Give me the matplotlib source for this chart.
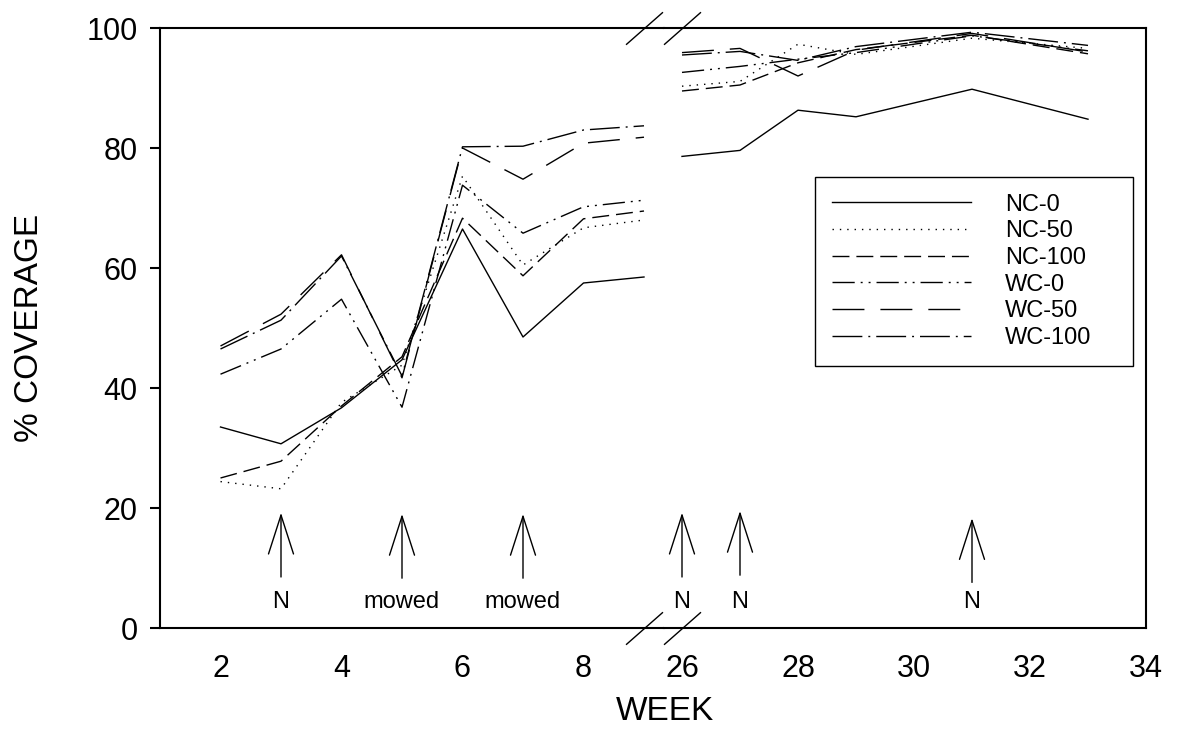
import matplotlib
matplotlib.use("Agg")
import matplotlib.pyplot as plt
from matplotlib.transforms import blended_transform_factory

plt.rcParams['font.family'] = ['Liberation Sans', 'DejaVu Sans']
plt.rcParams['lines.scale_dashes'] = False

# data: first season weeks 2-9, second season weeks 26-33
weeks_a = [2, 3, 4, 5, 6, 7, 8, 9]
weeks_b = [26, 27, 28, 29, 31, 33]

labels = ["NC-0", "NC-50", "NC-100", "WC-0", "WC-50", "WC-100"]

nc0_a = [33.5, 30.7, 36.7, 44.7, 66.5, 48.5, 57.5, 58.5]
nc50_a = [24.4, 23.2, 37.6, 43.8, 75.3, 60.5, 66.7, 68.0]
nc100_a = [25.0, 27.8, 37.0, 45.2, 68.3, 58.7, 68.2, 69.5]
wc0_a = [42.3, 46.5, 54.8, 36.8, 73.8, 65.8, 70.2, 71.3]
wc50_a = [47.0, 52.3, 62.2, 41.7, 80.0, 74.8, 80.8, 81.8]
wc100_a = [46.5, 51.3, 62.0, 42.0, 80.2, 80.3, 83.0, 83.7]

nc0_b = [78.6, 79.6, 86.3, 85.2, 89.8, 84.8]
nc50_b = [90.3, 91.1, 97.3, 95.6, 98.3, 96.6]
nc100_b = [89.5, 90.5, 94.2, 96.4, 98.8, 95.7]
wc0_b = [92.6, 93.6, 94.8, 95.9, 98.7, 96.2]
wc50_b = [95.9, 96.6, 92.0, 96.3, 99.1, 96.0]
wc100_b = [95.5, 96.1, 94.6, 96.9, 99.3, 97.1]

series_a = [nc0_a, nc50_a, nc100_a, wc0_a, wc50_a, wc100_a]
series_b = [nc0_b, nc50_b, nc100_b, wc0_b, wc50_b, wc100_b]

# event arrows
arrow_weeks = [3, 5, 7, 26, 27, 31]
arrow_text = ["N", "mowed", "mowed", "N", "N", "N"]
arrow_tip = [19.2, 19.0, 19.0, 19.2, 19.5, 18.3]
arrow_base = [8.5, 8.3, 8.3, 8.5, 8.8, 7.6]
text_y = 4.3

styles = [
    '-',
    (0, (1.0, 4.3)),
    (0, (12.2, 5.0)),
    (0, (16.0, 4.3, 1.4, 4.3, 1.4, 4.3)),
    (0, (23.0, 11.5)),
    (0, (21.5, 4.3, 1.4, 4.3)),
]

W, H = 1203, 736
fig = plt.figure(figsize=(W / 100, H / 100), dpi=100)
bot = (H - 628) / H
hgt = 600 / H
split = 664
ax1 = fig.add_axes([160 / W, bot, (split - 160) / W, hgt])
ax2 = fig.add_axes([split / W, bot, (1146 - split) / W, hgt], sharey=ax1)

for ax, weeks, data in [(ax1, weeks_a, series_a), (ax2, weeks_b, series_b)]:
    for vals, ls, lab in zip(data, styles, labels):
        ax.plot(weeks, vals, color='black', linestyle=ls, linewidth=1.0, label=lab)

ax1.set_xlim(1, 1 + (split - 160) / 60.5)
ax2.set_xlim(26 - (682 - split) / 58.0, 34)
ax1.set_ylim(0, 100)

for ax in (ax1, ax2):
    for s in ax.spines.values():
        s.set_linewidth(1.5)
ax1.spines['right'].set_visible(False)
ax2.spines['left'].set_visible(False)

ax1.set_yticks([0, 20, 40, 60, 80, 100])
ax1.tick_params(axis='y', direction='out', length=7, width=1.5, pad=9, labelsize=22)
ax2.tick_params(axis='y', left=False, labelleft=False)

ax1.set_xticks([2, 4, 6, 8])
ax1.tick_params(axis='x', length=0, pad=19, labelsize=22)
ax2.set_xticks([26, 28, 30, 32, 34])
ax2.tick_params(axis='x', which='major', length=0, pad=19, labelsize=22)
ax2.set_xticks([30], minor=True)
ax2.tick_params(axis='x', which='minor', direction='out', length=6, width=1.2)

# arrows and labels
for w, t, tip, base in zip(arrow_weeks, arrow_text, arrow_tip, arrow_base):
    ax = ax1 if w < 20 else ax2
    ax.annotate('', xy=(w, tip), xytext=(w, base),
                arrowprops=dict(arrowstyle='->,head_length=1.4,head_width=0.45',
                                mutation_scale=20, color='black', lw=1.0,
                                shrinkA=0, shrinkB=0))
    ax.text(w, text_y, t, ha='center', va='center', fontsize=17)

# break marks
mark = [(-1, -0.88), (1, 0.88)]
for ax, w in [(ax1, weeks_a[-1]), (ax2, weeks_b[0])]:
    tr = blended_transform_factory(ax.transData, ax.transAxes)
    ax.plot([w, w], [0, 1], transform=tr, marker=mark, markersize=26.6,
            linestyle='none', color='black', markeredgewidth=1.0, clip_on=False)

handles, labs = ax1.get_legend_handles_labels()
leg = fig.legend(handles, labs, loc='upper left',
                 bbox_to_anchor=(815 / W, 1 - 359 / H, 318 / W, 182 / H),
                 mode='expand', borderaxespad=0, fontsize=17,
                 handlelength=5.9, handletextpad=1.45, labelspacing=0.2,
                 borderpad=0.7, fancybox=False, framealpha=1, edgecolor='black')
leg.get_frame().set_linewidth(1.0)

fig.text(665 / W, 1 - 712 / H, 'WEEK', ha='center', va='center', fontsize=24)
fig.text(30 / W, 1 - 328 / H, '% COVERAGE', ha='center', va='center',
         rotation=90, fontsize=24)

fig.savefig('out.png', dpi=100)
